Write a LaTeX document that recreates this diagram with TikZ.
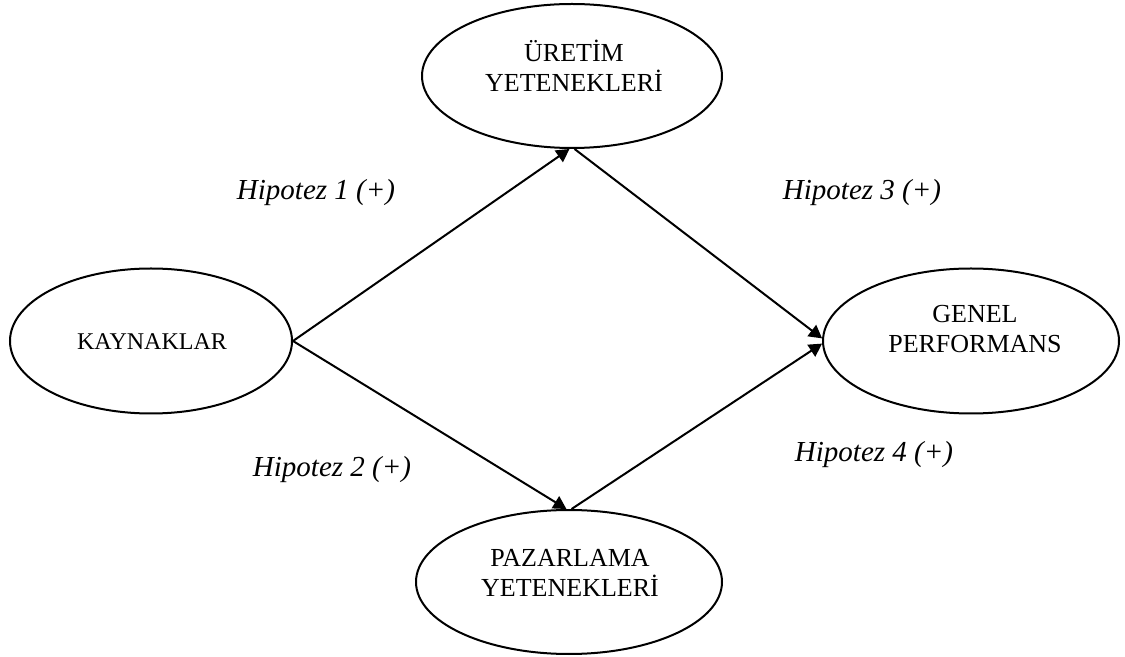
\documentclass[tikz,border=0pt]{standalone}
\usepackage{fontspec}
\setmainfont{Liberation Serif}
\usetikzlibrary{arrows.meta,shapes.geometric}
\tikzset{
  oval/.style={draw, line width=1pt, ellipse, inner sep=0pt},
  lbl/.style={align=center, font=\fontsize{13}{15}\selectfont, inner sep=0pt},
  hyp/.style={font=\fontsize{14.5}{17}\selectfont\itshape, inner sep=0pt},
  link/.style={line width=1pt, -{Triangle[length=6.5pt,width=7pt]}}
}
\begin{document}
\begin{tikzpicture}[x=0.5pt,y=-0.5pt]
\useasboundingbox (0,0) rectangle (1125,657);
% ellipses
\node[oval, minimum width=141pt, minimum height=72.5pt] (K) at (151,341) {};
\node[oval, minimum width=150pt, minimum height=72pt] (U) at (572,76) {};
\node[oval, minimum width=153pt, minimum height=72pt] (P) at (569,582) {};
\node[oval, minimum width=148pt, minimum height=72.5pt] (G) at (971,341) {};
% texts
\node[lbl, font=\fontsize{12}{15}\selectfont] (Kt) at (152,342) {KAYNAKLAR};
\node[lbl] (Ut) at (574,66) {ÜRETİM\\YETENEKLERİ};
\node[lbl] (Pt) at (570,573) {PAZARLAMA\\YETENEKLERİ};
\node[lbl] (Gt) at (975,329) {GENEL\\PERFORMANS};
\node[hyp] (h1) at (316,193) {Hipotez 1 (+)};
\node[hyp] (h2) at (332,470) {Hipotez 2 (+)};
\node[hyp] (h3) at (862,193) {Hipotez 3 (+)};
\node[hyp] (h4) at (874,455) {Hipotez 4 (+)};
% connectors
\draw[link] (K.east) -- (U.268);
\draw[link] (K.east) -- (P.92);
\draw[link] (U.272) -- (G.179);
\draw[link] (P.88) -- (G.181);
\end{tikzpicture}
\end{document}
